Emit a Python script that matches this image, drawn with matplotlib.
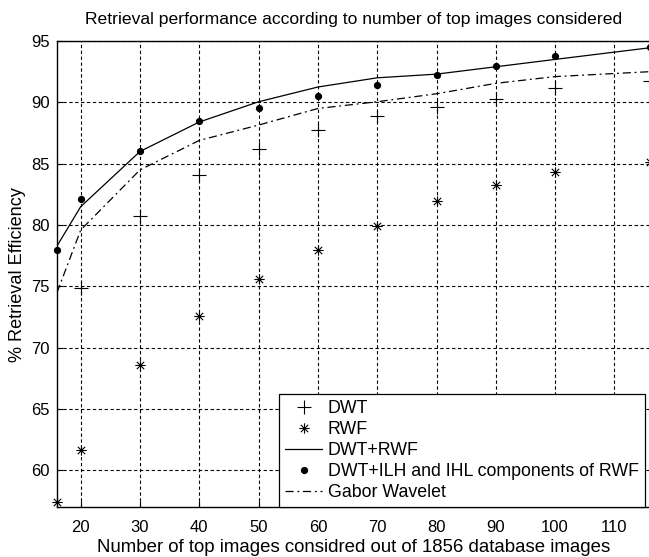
import matplotlib
matplotlib.use("Agg")
import matplotlib.pyplot as plt
from matplotlib.path import Path

plt.rcParams['font.family'] = ['Liberation Sans', 'DejaVu Sans']

# Data
x_full = [16, 20, 30, 40, 50, 60, 70, 80, 90, 100, 116]
x_dwt = [20, 30, 40, 50, 60, 70, 80, 90, 100, 116]
dwt = [74.85, 80.75, 84.1, 86.2, 87.75, 88.9, 89.6, 90.3, 91.2, 91.7]
rwf = [57.45, 61.65, 68.6, 72.6, 75.6, 77.95, 79.95, 81.95, 83.3, 84.3, 85.1]
dwt_rwf = [78.3, 81.5, 86.0, 88.4, 90.05, 91.25, 92.0, 92.3, 92.9, 93.5, 94.45]
dwt_ilh = [78.0, 82.1, 86.0, 88.45, 89.55, 90.55, 91.45, 92.25, 93.0, 93.8, 94.55]
gabor = [74.5, 79.6, 84.5, 86.9, 88.15, 89.5, 90.05, 90.7, 91.55, 92.1, 92.5]

labels = ['DWT', 'RWF', 'DWT+RWF', 'DWT+ILH and IHL components of RWF', 'Gabor Wavelet']
xticks = [20, 30, 40, 50, 60, 70, 80, 90, 100, 110]
yticks = [60, 65, 70, 75, 80, 85, 90, 95]

# MATLAB-like asterisk marker (+ and x combined)
d = 0.7071
ast_verts = [(0, -1), (0, 1), (-1, 0), (1, 0), (-d, -d), (d, d), (-d, d), (d, -d)]
ast_codes = [Path.MOVETO, Path.LINETO] * 4
asterisk = Path(ast_verts, ast_codes)

W, H = 649, 557
fig = plt.figure(figsize=(W / 100, H / 100), dpi=100)
ax = fig.add_axes([57 / W, 1 - 507.3 / H, 593 / W, (507.3 - 41) / H])

gabor_ls = (0, (6.5, 3, 1.5, 3))

ax.plot(x_dwt, dwt, linestyle='none', marker='+', markersize=10, markeredgewidth=0.8,
        color='black', label=labels[0], clip_on=False)
ax.plot(x_full, rwf, linestyle='none', marker=asterisk, markersize=7.5, markeredgewidth=0.8,
        color='black', label=labels[1], clip_on=False)
ax.plot(x_full, dwt_rwf, linestyle='-', linewidth=0.9, color='black', label=labels[2])
ax.plot(x_full, dwt_ilh, linestyle='none', marker='o', markersize=4.2,
        color='black', label=labels[3], clip_on=False)
ax.plot(x_full, gabor, linestyle=gabor_ls, linewidth=0.9, color='black', label=labels[4])

ax.set_xlim(16, 116)
ax.set_ylim(57, 95)
ax.set_xticks(xticks)
ax.set_yticks(yticks)
ax.tick_params(direction='in', length=4, width=0.8, labelsize=12, colors='black')
ax.tick_params(axis='x', pad=9)
ax.tick_params(axis='y', pad=5)
ax.grid(True, color='black', linestyle=(0, (3, 2.3)), linewidth=0.8)
for s in ax.spines.values():
    s.set_linewidth(1.0)
    s.set_color('black')

ax.set_title('Retrieval performance according to number of top images considered',
             fontsize=12.6, pad=12)
ax.set_xlabel('Number of top images considred out of 1856 database images', fontsize=13.4, labelpad=3)
ax.set_ylabel('% Retrieval Efficiency', fontsize=13.1, labelpad=4)

leg = ax.legend(loc='lower right', bbox_to_anchor=(645 / W, 1 - 507.3 / H),
                bbox_transform=fig.transFigure, fontsize=12.8, fancybox=False, framealpha=1,
                edgecolor='black', borderaxespad=0, handlelength=2.1,
                labelspacing=0.22, borderpad=0.35, handletextpad=0.3)
leg.get_frame().set_linewidth(0.9)

fig.savefig('out.png', dpi=100)
